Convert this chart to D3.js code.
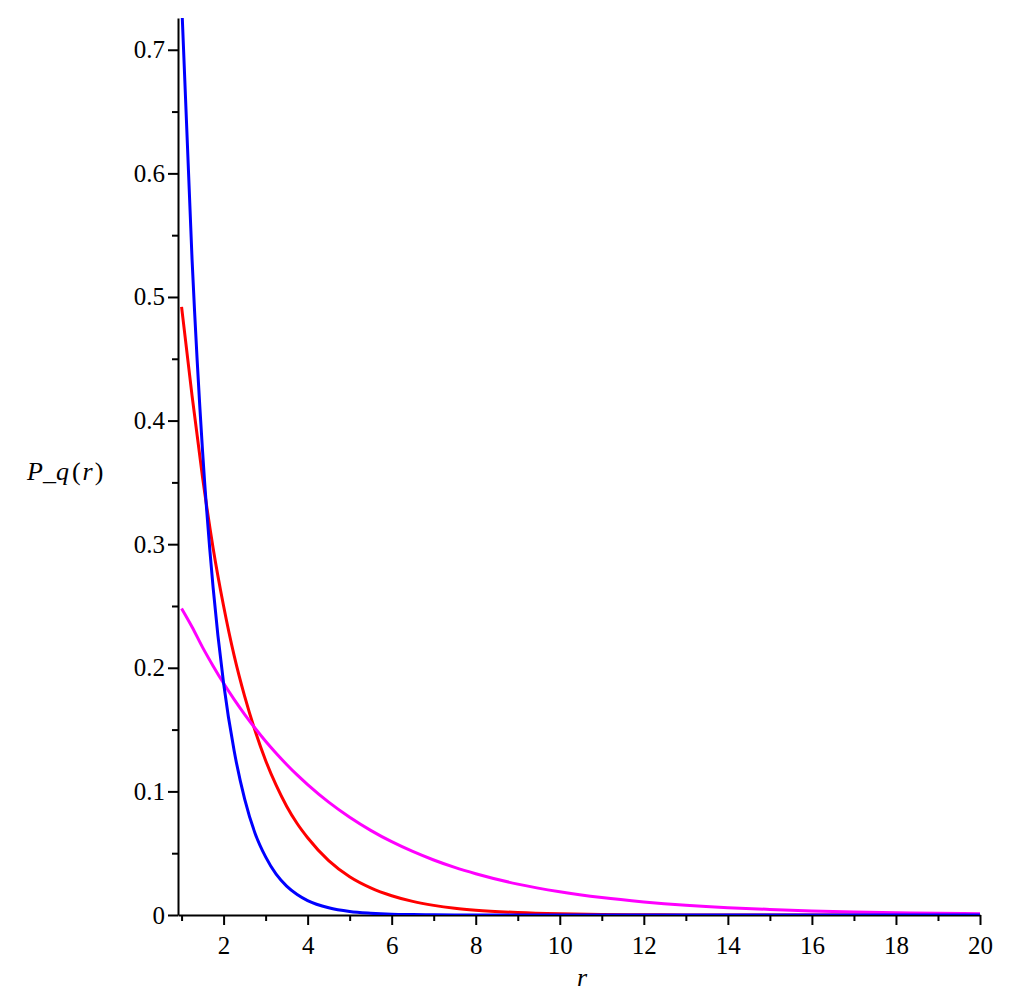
<!DOCTYPE html>
<html>
<head>
<meta charset="utf-8">
<script src="https://cdn.jsdelivr.net/npm/d3@7"></script>
<style>
	body { margin: 0; background: #fff; }
	svg { display: block; }
	text { font-family: "Liberation Serif", "Times New Roman", serif; }
</style>
</head>
<body>
<svg></svg>
<script>

// r values
var rValues = [1, 1.25, 1.5, 1.75, 2, 2.25, 2.5, 2.75, 3, 3.25, 3.5, 3.75, 4,
	4.5, 5, 5.5, 6, 6.5, 7, 7.5, 8,
	9, 10, 11, 12, 13, 14, 15, 16, 17, 18, 19, 20];

var blueValues = [0.74, 0.53, 0.375, 0.265, 0.1875, 0.133, 0.094, 0.066, 0.047, 0.033, 0.0234, 0.0166, 0.0117,
	0.0059, 0.0029, 0.0015, 0.0007, 0.0004, 0.0002, 0.0001, 0.00005,
	0, 0, 0, 0, 0, 0, 0, 0, 0, 0, 0, 0];

var redValues = [0.492, 0.42, 0.354, 0.297, 0.25, 0.21, 0.177, 0.149, 0.125, 0.105, 0.088, 0.074, 0.0625,
	0.044, 0.031, 0.022, 0.0156, 0.011, 0.0078, 0.0055, 0.0039,
	0.002, 0.001, 0.0005, 0.0002, 0.0001, 0.0001, 0, 0, 0, 0, 0, 0];

var magentaValues = [0.248, 0.233, 0.2165, 0.2015, 0.1875, 0.1745, 0.1624, 0.1511, 0.1406, 0.1309, 0.1218, 0.1133, 0.1055,
	0.0913, 0.0791, 0.0685, 0.0593, 0.0514, 0.0445, 0.0385, 0.0334,
	0.025, 0.0188, 0.0141, 0.0106, 0.0079, 0.0059, 0.0045, 0.0033, 0.0025, 0.0019, 0.0014, 0.0011];

var xMajorTicks = [2, 4, 6, 8, 10, 12, 14, 16, 18, 20];
var xMinorTicks = [1, 3, 5, 7, 9, 11, 13, 15, 17, 19];
var yMajorTicks = [0, 0.1, 0.2, 0.3, 0.4, 0.5, 0.6, 0.7];
var yTickLabels = ["0", "0.1", "0.2", "0.3", "0.4", "0.5", "0.6", "0.7"];
var yMinorTicks = [0.05, 0.15, 0.25, 0.35, 0.45, 0.55, 0.65];

var series = [
	{ name: "red", color: "#ff0000", values: redValues },
	{ name: "magenta", color: "#ff00ff", values: magentaValues },
	{ name: "blue", color: "#0000ff", values: blueValues }
];

window.onload = function(){

	var svg = d3.select('svg')
		.attr('width', 1012)
		.attr('height', 1004);

	var x = d3.scaleLinear().domain([0.915, 20]).range([178, 980]);
	var y = d3.scaleLinear().domain([0, 0.7257]).range([915, 18]);

	svg.append('clipPath')
		.attr('id', 'plotclip')
		.append('rect')
		.attr('x', 178).attr('y', 18)
		.attr('width', 802).attr('height', 897);

	// minor ticks first, no labels
	svg.append('g')
		.attr('transform', 'translate(0,915)')
		.call(d3.axisBottom(x).tickValues(xMinorTicks).tickSize(6).tickFormat(''))
		.call(function(g){ g.select('.domain').remove() });

	svg.append('g')
		.attr('transform', 'translate(178,0)')
		.call(d3.axisLeft(y).tickValues(yMinorTicks).tickSize(6).tickFormat(''))
		.call(function(g){ g.select('.domain').remove() });

	var xAxis = svg.append('g')
		.attr('transform', 'translate(0,915)')
		.call(d3.axisBottom(x).tickValues(xMajorTicks).tickSize(10).tickSizeOuter(0).tickPadding(11));

	var yAxis = svg.append('g')
		.attr('transform', 'translate(178,0)')
		.call(d3.axisLeft(y).tickValues(yMajorTicks).tickSize(10).tickSizeOuter(0).tickPadding(3)
			.tickFormat(function(d, i){ return yTickLabels[i] }));

	svg.selectAll('.tick line, .domain')
		.attr('stroke', '#000')
		.attr('stroke-width', 2);

	svg.selectAll('.tick text')
		.attr('fill', '#000')
		.style('font-size', '25px')
		.style('font-family', '"Liberation Serif", serif');

	var line = d3.line()
		.x(function(d){ return x(d[0]) })
		.y(function(d){ return y(d[1]) })
		.curve(d3.curveMonotoneX);

	svg.append('g')
		.attr('clip-path', 'url(#plotclip)')
		.selectAll('path')
		.data(series)
		.enter()
		.append('path')
			.attr('fill', 'none')
			.attr('stroke', function(d){ return d.color })
			.attr('stroke-width', 3)
			.attr('d', function(d){
				return line(rValues.map(function(r, i){ return [r, d.values[i]] }))
			});

	// axis titles
	svg.append('text')
		.attr('x', 582)
		.attr('y', 986)
		.attr('text-anchor', 'middle')
		.style('font-size', '26px')
		.style('font-style', 'italic')
		.text('r');

	var yTitle = svg.append('text')
		.attr('x', 27)
		.attr('y', 480)
		.style('font-size', '26px');
	yTitle.append('tspan').style('font-style', 'italic').text('P_q');
	yTitle.append('tspan').attr('dx', 3).text('(');
	yTitle.append('tspan').attr('dx', 2).style('font-style', 'italic').text('r');
	yTitle.append('tspan').attr('dx', 2).text(')');

};
</script>
</body>
</html>
